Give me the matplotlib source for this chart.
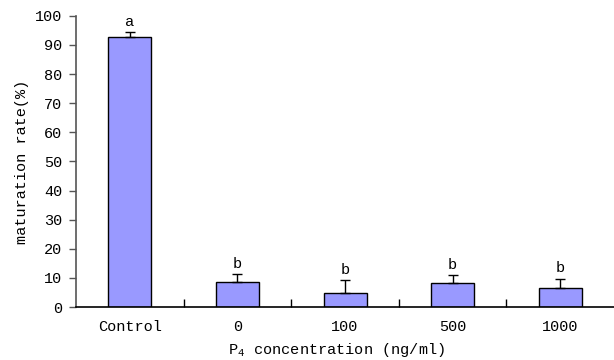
import matplotlib
matplotlib.use("Agg")
import matplotlib.pyplot as plt
import numpy as np

# data
groups = ["Control", "0", "100", "500", "1000"]
rate = [92.7, 8.7, 5.0, 8.1, 6.4]
err = [1.7, 2.5, 4.2, 2.8, 3.3]
letters = ["a", "b", "b", "b", "b"]

plt.rcParams['font.family'] = ['Liberation Mono', 'DejaVu Sans']
plt.rcParams['font.size'] = 11
plt.rcParams['mathtext.fontset'] = 'custom'
plt.rcParams['mathtext.rm'] = 'Liberation Mono'

fig = plt.figure(figsize=(6.14, 3.6), dpi=100)
ax = fig.add_axes([0.124, 0.147, 0.876, 0.809])

x = np.arange(len(groups))
ax.bar(x, rate, width=0.4, color="#9999ff", edgecolor="black", linewidth=1,
       yerr=[np.zeros(len(err)), err], error_kw=dict(ecolor="black", elinewidth=1, capsize=3.6, capthick=1))

for xi, r, e, l in zip(x, rate, err, letters):
    ax.text(xi, r + e + 1.2, l, ha="center", va="bottom")

ax.set_xlim(-0.5, len(groups) - 0.5)
ax.set_ylim(0, 100)
ax.set_yticks(np.arange(0, 101, 10))
ax.set_xticks(x)
ax.set_xticklabels(groups)
ax.tick_params(axis="x", length=0, pad=9)
ax.set_xticks(x[:-1] + 0.5, minor=True)
ax.tick_params(axis="x", which="minor", direction="in", length=6, width=1)
ax.tick_params(axis="y", direction="out", length=5, width=1, pad=5, color="#555555")

ax.spines["top"].set_visible(False)
ax.spines["right"].set_visible(False)
ax.spines["left"].set_color("#555555")
ax.spines["left"].set_linewidth(1.2)
ax.spines["bottom"].set_linewidth(1.2)

ax.set_ylabel("maturation rate(%)", labelpad=4)
ax.set_xlabel("P$_4$ concentration (ng/ml)", labelpad=0)
ax.xaxis.set_label_coords(0.485, -0.115)

fig.savefig("out.png", dpi=100)
